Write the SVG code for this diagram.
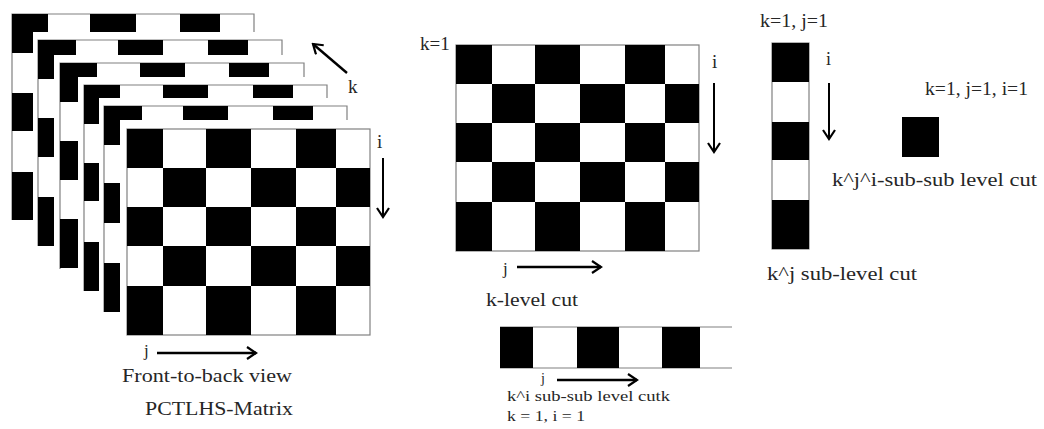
<svg xmlns="http://www.w3.org/2000/svg" xmlns:xlink="http://www.w3.org/1999/xlink" width="1044" height="429" viewBox="0 0 1044 429">
<style>
  .t { font-family: "Liberation Serif", "Times New Roman", serif; fill: #262626; }
  .blk { fill: #000; }
  .edge { fill: none; stroke: #808080; stroke-width: 1.2; }
  .arr { fill: none; stroke: #000; stroke-width: 2.4; }
  .arrv { fill: none; stroke: #000; stroke-width: 2; }
</style>
<defs>
  <marker id="chev" viewBox="0 0 12 14" refX="10" refY="7" markerWidth="12" markerHeight="14" markerUnits="userSpaceOnUse" orient="auto">
    <path d="M1,1 L10,7 L1,13" fill="none" stroke="#000" stroke-width="2.2"/>
  </marker>
  <g id="board">
    <rect x="0" y="0" width="243" height="206" fill="#fff" class="edge"/>
    <rect class="blk" x="0" y="0" width="36" height="39"/>
    <rect class="blk" x="79" y="0" width="45" height="39"/>
    <rect class="blk" x="169" y="0" width="40" height="39"/>
    <rect class="blk" x="36" y="39" width="43" height="39"/>
    <rect class="blk" x="124" y="39" width="45" height="39"/>
    <rect class="blk" x="209" y="39" width="34" height="39"/>
    <rect class="blk" x="0" y="78" width="36" height="39"/>
    <rect class="blk" x="79" y="78" width="45" height="39"/>
    <rect class="blk" x="169" y="78" width="40" height="39"/>
    <rect class="blk" x="36" y="117" width="43" height="40"/>
    <rect class="blk" x="124" y="117" width="45" height="40"/>
    <rect class="blk" x="209" y="117" width="34" height="40"/>
    <rect class="blk" x="0" y="157" width="36" height="49"/>
    <rect class="blk" x="79" y="157" width="45" height="49"/>
    <rect class="blk" x="169" y="157" width="40" height="49"/>
  </g>
</defs>
<rect width="1044" height="429" fill="#fff"/>

<g id="sheet1" transform="translate(12,14)">
  <path class="edge" d="M0,206 L0,0 L242,0 L242,18"/>
  <rect class="blk" x="0" y="0" width="36" height="18"/>
  <rect class="blk" x="0" y="0" width="21" height="39"/>
  <rect class="blk" x="78" y="0" width="46" height="18"/>
  <rect class="blk" x="168" y="0" width="40" height="18"/>
  <rect class="blk" x="0" y="79" width="21" height="38"/>
  <rect class="blk" x="0" y="158" width="21" height="48"/>
</g>
<g id="sheet2" transform="translate(38,40)">
  <path class="edge" d="M0,206 L0,0 L244,0 L244,15"/>
  <rect class="blk" x="0" y="0" width="38" height="15"/>
  <rect class="blk" x="0" y="0" width="16" height="39"/>
  <rect class="blk" x="80" y="0" width="45" height="15"/>
  <rect class="blk" x="170" y="0" width="40" height="15"/>
  <rect class="blk" x="0" y="78" width="16" height="39"/>
  <rect class="blk" x="0" y="157" width="16" height="49"/>
</g>
<g id="sheet3" transform="translate(60,63)">
  <path class="edge" d="M0,206 L0,0 L244,0 L244,14"/>
  <rect class="blk" x="0" y="0" width="37" height="14"/>
  <rect class="blk" x="0" y="0" width="18" height="39"/>
  <rect class="blk" x="80" y="0" width="45" height="14"/>
  <rect class="blk" x="169" y="0" width="40" height="14"/>
  <rect class="blk" x="0" y="78" width="18" height="39"/>
  <rect class="blk" x="0" y="156" width="18" height="49"/>
</g>
<g id="sheet4" transform="translate(84,85)">
  <path class="edge" d="M0,206 L0,0 L243,0 L243,13"/>
  <rect class="blk" x="0" y="0" width="36" height="13"/>
  <rect class="blk" x="0" y="0" width="15" height="39"/>
  <rect class="blk" x="79" y="0" width="45" height="13"/>
  <rect class="blk" x="169" y="0" width="40" height="13"/>
  <rect class="blk" x="0" y="78" width="15" height="38"/>
  <rect class="blk" x="0" y="157" width="15" height="49"/>
</g>
<g id="sheet5" transform="translate(104,106)">
  <path class="edge" d="M0,206 L0,0 L243,0 L243,14"/>
  <rect class="blk" x="0" y="0" width="38" height="14"/>
  <rect class="blk" x="0" y="0" width="16" height="39"/>
  <rect class="blk" x="79" y="0" width="45" height="14"/>
  <rect class="blk" x="169" y="0" width="40" height="14"/>
  <rect class="blk" x="0" y="77" width="16" height="40"/>
  <rect class="blk" x="0" y="157" width="16" height="49"/>
</g>
<g id="front-sheet" transform="translate(127,129)">
  <use xlink:href="#board" href="#board"/>
</g>

<g id="k-level-grid" transform="translate(456,45)">
  <use xlink:href="#board" href="#board"/>
</g>

<g id="kj-column">
  <rect x="772" y="43" width="37" height="206" fill="#fff" class="edge"/>
  <rect class="blk" x="772" y="43" width="37" height="39"/>
  <rect class="blk" x="772" y="122" width="37" height="38"/>
  <rect class="blk" x="772" y="200" width="37" height="49"/>
</g>

<g id="kji-cell">
  <rect class="blk" x="902" y="117" width="37" height="40"/>
</g>

<g id="ki-strip">
  <path class="edge" d="M500,327 L732,327 M500,368 L732,368"/>
  <rect class="blk" x="500" y="327" width="33" height="41"/>
  <rect class="blk" x="577" y="327" width="42" height="41"/>
  <rect class="blk" x="662" y="327" width="38" height="41"/>
</g>

<g id="connectors">
  <line class="arr" x1="347" y1="73" x2="313" y2="44" marker-end="url(#chev)"/>
  <line class="arrv" x1="383" y1="158" x2="383" y2="217" marker-end="url(#chev)"/>
  <line class="arr" x1="157" y1="353" x2="256" y2="353" marker-end="url(#chev)"/>
  <line class="arrv" x1="714" y1="83" x2="714" y2="152" marker-end="url(#chev)"/>
  <line class="arr" x1="517" y1="267" x2="601" y2="267" marker-end="url(#chev)"/>
  <line class="arrv" x1="829" y1="83" x2="829" y2="139" marker-end="url(#chev)"/>
  <line class="arr" x1="557" y1="380" x2="637" y2="380" marker-end="url(#chev)"/>
</g>

<g id="labels">
  <text class="t" x="348" y="93" font-size="19">k</text>
  <text class="t" x="377" y="148" font-size="19">i</text>
  <text class="t" x="144" y="356" font-size="17">j</text>
  <text class="t" x="122" y="382" font-size="19" textLength="170" lengthAdjust="spacingAndGlyphs">Front-to-back view</text>
  <text class="t" x="145" y="415" font-size="18" textLength="148" lengthAdjust="spacingAndGlyphs">PCTLHS-Matrix</text>

  <text class="t" x="420" y="50" font-size="19">k=1</text>
  <text class="t" x="712" y="68" font-size="19">i</text>
  <text class="t" x="503" y="274" font-size="17">j</text>
  <text class="t" x="486" y="306" font-size="19" textLength="92" lengthAdjust="spacingAndGlyphs">k-level cut</text>

  <text class="t" x="541" y="383" font-size="14">j</text>
  <text class="t" x="507" y="401" font-size="14" textLength="163" lengthAdjust="spacingAndGlyphs">k^i sub-sub level cutk</text>
  <text class="t" x="507" y="421" font-size="14" textLength="78" lengthAdjust="spacingAndGlyphs">k = 1, i = 1</text>

  <text class="t" x="760" y="27" font-size="19" textLength="68" lengthAdjust="spacingAndGlyphs">k=1, j=1</text>
  <text class="t" x="826" y="65" font-size="18">i</text>
  <text class="t" x="925" y="95" font-size="19" textLength="103" lengthAdjust="spacingAndGlyphs">k=1, j=1, i=1</text>
  <text class="t" x="832" y="186" font-size="19" textLength="205" lengthAdjust="spacingAndGlyphs">k^j^i-sub-sub level cut</text>
  <text class="t" x="767" y="280" font-size="19" textLength="150" lengthAdjust="spacingAndGlyphs">k^j sub-level cut</text>
</g>
</svg>
